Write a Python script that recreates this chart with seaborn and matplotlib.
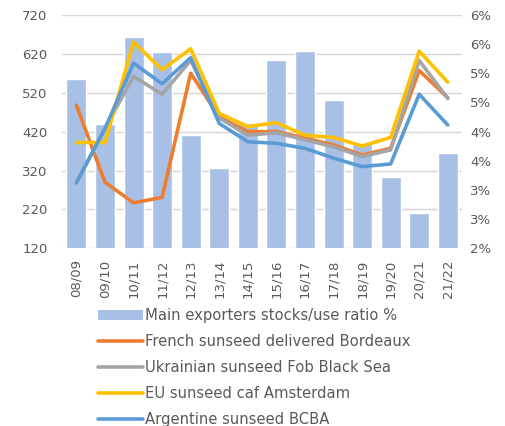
import matplotlib
matplotlib.use("Agg")
import matplotlib.pyplot as plt
import numpy as np
import pandas as pd
import seaborn as sns
from matplotlib.ticker import FixedLocator, FuncFormatter
from matplotlib.lines import Line2D
from matplotlib.patches import Patch

# data
seasons = ["08/09", "09/10", "10/11", "11/12", "12/13", "13/14", "14/15",
           "15/16", "16/17", "17/18", "18/19", "19/20", "20/21", "21/22"]
stocks_use_pct = [4.90, 4.13, 5.62, 5.37, 3.94, 3.38, 4.14,
                  5.22, 5.39, 4.55, 3.80, 3.22, 2.61, 3.64]
french_bordeaux = [488, 290, 237, 251, 570, 458, 420, 420, 403, 386, 360, 377, 577, 507]
ukraine_black_sea = [290, 428, 562, 516, 603, 455, 411, 417, 399, 381, 356, 373, 603, 505]
eu_amsterdam = [392, 392, 650, 579, 633, 467, 433, 443, 411, 405, 383, 405, 627, 547]
argentine_bcba = [288, 428, 596, 543, 610, 441, 394, 390, 377, 352, 330, 337, 516, 437]

series_names = ["French sunseed delivered Bordeaux", "Ukrainian sunseed Fob Black Sea",
                "EU sunseed caf Amsterdam", "Argentine sunseed BCBA"]
bar_name = "Main exporters stocks/use ratio %"
colors = ["#ED7D31", "#A5A5A5", "#FFC000", "#5B9BD5"]
bar_color = "#A9C0E6"
text_color = "#595959"

left_lim = (120, 720)
right_lim = (2, 6)

sns.set_theme(style="white")
plt.rcParams["font.family"] = ["DejaVu Sans"]

prices = pd.DataFrame({
    "season": seasons * 4,
    "price": french_bordeaux + ukraine_black_sea + eu_amsterdam + argentine_bcba,
    "series": sum([[n] * len(seasons) for n in series_names], []),
})
bars = pd.DataFrame({"season": seasons, "ratio": stocks_use_pct})

fig = plt.figure(figsize=(5.05, 4.26), dpi=100)
ax = fig.add_axes([0.123, 0.417, 0.792, 0.548])
ax2 = ax.twinx()

# bars on the right axis, behind the lines
sns.barplot(data=bars, x="season", y="ratio", color=bar_color, width=0.7,
            saturation=1, ax=ax2, zorder=2)
ax2.set_ylim(*right_lim)
ax2.yaxis.set_major_locator(FixedLocator(np.arange(2, 6.01, 0.5)))
ax2.yaxis.set_major_formatter(FuncFormatter(lambda v, p: f"{int(np.floor(v + 0.5))}%"))
ax2.tick_params(axis="y", length=0, pad=6, labelsize=9.5, labelcolor=text_color)
ax2.set_ylabel("")

# gridlines follow the left scale but sit under the bars
left_ticks = np.arange(left_lim[0], left_lim[1] + 1, 100)
for v in left_ticks:
    y2 = right_lim[0] + (v - left_lim[0]) / (left_lim[1] - left_lim[0]) * (right_lim[1] - right_lim[0])
    ax2.axhline(y2, color="#D6D6D6", linewidth=1.0, zorder=0.5)

sns.lineplot(data=prices, x="season", y="price", hue="series", hue_order=series_names,
             palette=colors, linewidth=2.6, sort=False, legend=False, ax=ax)
ax.set_ylim(*left_lim)
ax.set_yticks(left_ticks)
ax.set_xlim(-0.5, len(seasons) - 0.5)
ax.set_zorder(ax2.get_zorder() + 1)
ax.patch.set_visible(False)
ax.set_xlabel("")
ax.set_ylabel("")
ax.tick_params(axis="y", length=0, pad=10.5, labelsize=9.5, labelcolor=text_color)
ax.tick_params(axis="x", length=0, pad=8, labelsize=9.5, labelcolor=text_color, rotation=90)

for a in (ax, ax2):
    for s in a.spines.values():
        s.set_visible(False)

handles = [Patch(facecolor=bar_color, edgecolor="none")] + \
          [Line2D([0], [0], color=c, linewidth=2.6) for c in colors]
fig.legend(handles, [bar_name] + series_names, loc="upper left",
           bbox_to_anchor=(0.182, 0.29), frameon=False, fontsize=10.6,
           handlelength=3.05, handletextpad=0.15, labelspacing=0.74,
           labelcolor=text_color, borderaxespad=0)

fig.savefig("out.png", dpi=100)
